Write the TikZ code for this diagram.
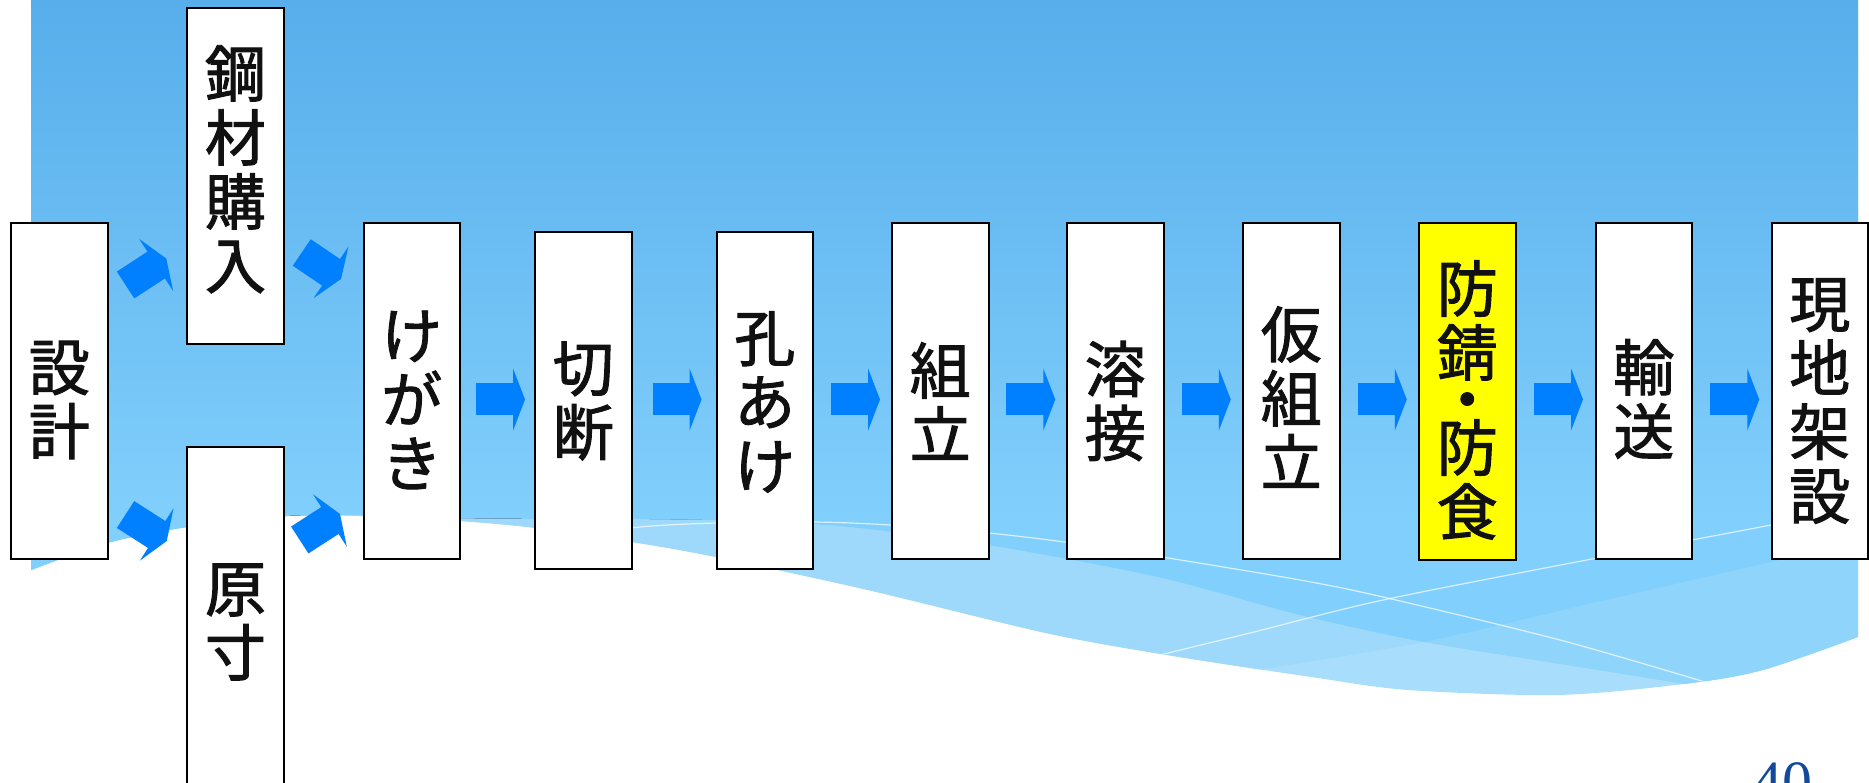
\documentclass[tikz,border=0pt]{standalone}
\usepackage{fontspec}
\setmainfont{Liberation Serif}
\newfontfamily\jp[BoldFont={Noto Sans CJK JP}, BoldFeatures={FakeBold=1.6}]{Noto Sans CJK JP}
\usetikzlibrary{arrows.meta,calc}
\definecolor{arrowblue}{HTML}{0080FF}
\definecolor{bgtop}{HTML}{57AEEB}
\definecolor{bgbot}{HTML}{81CFFC}
\definecolor{bandA}{HTML}{9ED9FB}
\definecolor{bandD}{HTML}{8FD4FA}
\definecolor{bandL}{HTML}{A8DEFC}
\definecolor{pagenum}{HTML}{12499A}
\definecolor{ink}{HTML}{111111}
\definecolor{hilite}{HTML}{FFFF00}
\begin{document}
\begin{tikzpicture}[x=1pt,y=-1pt,
  box/.style={draw=black, line width=2pt, fill=white, inner sep=0pt, outer sep=0pt,
              minimum width=96.5pt, minimum height=336pt},
  lbl/.style={font=\jp\bfseries\fontsize{61pt}{64pt}\selectfont, text=ink, align=center, inner sep=0pt},
  flow/.style={draw=arrowblue, line width=32pt, -{Triangle[length=12pt,width=62pt]}},
  wline/.style={draw=white, opacity=0.7, line width=1.2pt}]
\useasboundingbox (0,0) rectangle (1869,783);

% ---------- background ----------
\fill[bandL] (31,0) -- plot[smooth,tension=0.5] coordinates {(31,570) (107,543) (187,527) (286,516) (362,516) (460,521) (536,528) (632,542) (716,557) (868,590) (1046,633) (1167,655) (1311,677) (1408,690) (1558,695) (1684,684) (1763,670) (1858,637)} -- (1858,0) -- cycle;
\begin{scope}
  \clip (31,0) -- plot[smooth,tension=0.5] coordinates {(31,570) (107,543) (187,527) (286,516) (362,516) (460,521) (536,528) (632,542) (716,557) (868,590) (1046,633) (1167,655) (1311,677) (1408,690) (1558,695) (1684,684) (1763,670) (1858,637)} -- (1858,0) -- cycle;
  \fill[bandD] (0,-10) -- (0,575) -- plot[smooth,tension=0.5] coordinates {(31,570) (107,543) (187,527) (286,516) (362,515) (460,518) (560,519) (650,519) (750,521) (850,527) (988,545) (1158,577) (1300,615) (1424,642) (1560,664) (1684,684) (1870,716)} -- (1870,-10) -- cycle;
  \fill[bandA] (0,-10) -- (0,800) -- (880,800) -- plot[smooth,tension=0.5] coordinates {(880,730) (1000,712) (1100,692) (1250,671) (1424,642) (1593,603) (1771,562) (1870,538)} -- (1870,-10) -- cycle;
  \begin{scope}
    \clip (0,-10) -- (0,575) -- plot[smooth,tension=0.5] coordinates {(31,570) (107,543) (187,527) (286,516) (362,515) (460,518) (560,519) (650,519) (750,521) (850,527) (988,545) (1158,577) (1300,615) (1424,642) (1560,664) (1684,684) (1870,716)} -- (1870,-10) -- cycle;
    \clip (0,-10) -- (0,800) -- (880,800) -- plot[smooth,tension=0.5] coordinates {(880,730) (1000,712) (1100,692) (1250,671) (1424,642) (1593,603) (1771,562) (1870,538)} -- (1870,-10) -- cycle;
    \fill[top color=bgtop, bottom color=bgbot] (31,0) rectangle (1858,520);
    \fill[bgbot] (31,519) rectangle (1858,800);
  \end{scope}
  \draw[wline] plot[smooth,tension=0.5] coordinates {(560,538) (640,527) (716,523) (814,522) (890,525) (988,533) (1064,542) (1162,557) (1300,580) (1383,597) (1560,640) (1705,682)};
  \draw[wline] plot[smooth,tension=0.5] coordinates {(1100,670) (1168,653) (1250,633) (1383,600) (1597,558) (1771,525) (1870,505)};
\end{scope}

% ---------- boxes ----------
\node[box] (sekkei)   at (59.3,391)    {};
\node[box, minimum height=336.5pt] (kozai) at (235.5,176.25) {};
\node[box, minimum height=353pt]   (gensun) at (235.5,623.5) {};
\node[box] (kegaki)   at (411.75,391)  {};
\node[box, minimum height=337pt] (setsudan) at (583.25,400.5) {};
\node[box, minimum height=337pt] (anaake)   at (764.75,400.5) {};
\node[box] (kumitate) at (940.25,391)  {};
\node[box] (yosetsu)  at (1115.25,391) {};
\node[box] (karikumi) at (1291.25,391) {};
\node[box, fill=hilite, minimum height=337pt] (bousei) at (1467.25,391.5) {};
\node[box] (yusou)    at (1643.75,391) {};
\node[box] (genchi)   at (1819.75,391) {};

% ---------- labels ----------
\node[lbl] (t-sekkei)   at ($(sekkei.center)+(0,9)$)    {設\\計};
\node[lbl] (t-kozai)    at ($(kozai.center)+(0,-7)$)    {鋼\\材\\購\\入};
\node[lbl] (t-gensun)   at ($(gensun.center)+(0,-1.5)$) {原\\寸};
\node[lbl] (t-kegaki)   at ($(kegaki.center)+(0,9)$)    {け\\が\\き};
\node[lbl] (t-setsudan) at ($(setsudan.center)+(0,0.5)$) {切\\断};
\node[lbl] (t-anaake)   at ($(anaake.center)+(0,1.5)$)  {孔\\あ\\け};
\node[lbl] (t-kumitate) at ($(kumitate.center)+(0,10)$) {組\\立};
\node[lbl] (t-yosetsu)  at ($(yosetsu.center)+(0,10)$)  {溶\\接};
\node[lbl] (t-karikumi) at ($(karikumi.center)+(0,6)$)  {仮\\組\\立};
\node[lbl] (t-bousei)   at ($(bousei.center)+(0,8.5)$)  {防\\錆\\[-17.5pt]・\\[-15.5pt]防\\食};
\node[lbl] (t-yusou)    at ($(yusou.center)+(0,8)$)     {輸\\送};
\node[lbl] (t-genchi)   at ($(genchi.center)+(0,10)$)   {現\\地\\架\\設};

% ---------- arrows ----------
\coordinate (row) at (0,399.5);
\newcommand\hflow[2]{\draw[flow] ($(#1.east |- row)!0.5!(#2.west |- row)+(-21.5,0)$) -- ($(#1.east |- row)!0.5!(#2.west |- row)+(27.5,0)$);}
\hflow{kegaki}{setsudan}
\hflow{setsudan}{anaake}
\hflow{anaake}{kumitate}
\hflow{kumitate}{yosetsu}
\hflow{yosetsu}{karikumi}
\hflow{karikumi}{bousei}
\hflow{bousei}{yusou}
\hflow{yusou}{genchi}
\draw[flow] ($(sekkei.north east)+(18,62)$) -- ($(kozai.south west)+(-21,-86)$);
\draw[flow] ($(sekkei.south east)+(18,-44.5)$) -- ($(gensun.north west)+(-20.5,94)$);
\draw[flow] ($(kozai.south east)+(18,-92)$) -- ($(kegaki.north west)+(-22.5,56)$);
\draw[flow] ($(gensun.north east)+(16,93)$) -- ($(kegaki.south west)+(-23.5,-45)$);

% ---------- page number ----------
\node[font=\fontsize{60pt}{60pt}\selectfont, text=pagenum, anchor=base west, inner sep=0pt] (pg) at (1752,802) {40};
\end{tikzpicture}
\end{document}
